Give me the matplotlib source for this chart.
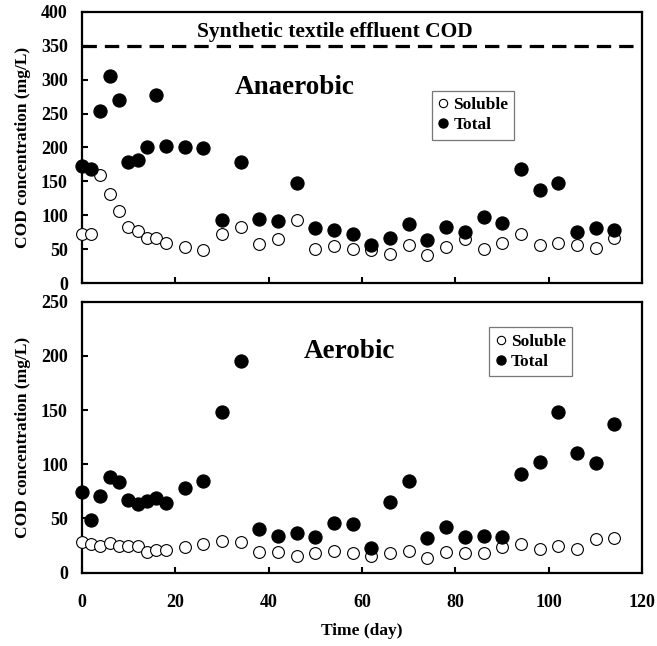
import matplotlib
matplotlib.use("Agg")
import matplotlib.pyplot as plt
from matplotlib.lines import Line2D

plt.rcParams['font.family'] = ['Liberation Serif', 'DejaVu Serif']
plt.rcParams['font.weight'] = 'bold'

days = [0, 2, 4, 6, 8, 10, 12, 14, 16, 18, 22, 26, 30, 34, 38, 42, 46, 50, 54, 58,
        62, 66, 70, 74, 78, 82, 86, 90, 94, 98, 102, 106, 110, 114]

anaer_total = [172, 168, 254, 305, 270, 178, 181, 201, 278, 202,
               200, 199, 93, 179, 95, 92, 148, 82, 79, 73,
               57, 67, 87, 63, 83, 75, 98, 89, 169, 138,
               148, 75, 81, 78]
anaer_sol = [72, 72, 160, 132, 106, 83, 77, 67, 67, 59,
             53, 49, 73, 83, 58, 65, 93, 51, 55, 50,
             49, 43, 56, 41, 54, 65, 51, 60, 72, 56,
             60, 57, 52, 67]

aer_total = [74, 49, 71, 88, 84, 67, 63, 66, 69, 64,
             78, 85, 148, 195, 40, 34, 37, 33, 46, 45,
             23, 65, 85, 32, 42, 33, 34, 33, 91, 102,
             148, 110, 101, 137]
aer_sol = [28, 26.5, 24.6, 27, 25, 24.6, 25, 19.4, 21, 21,
           24, 26.5, 29.5, 28.6, 19.4, 19.4, 15.7, 18.5, 20, 17.9,
           15.7, 17.9, 20, 13.8, 18.8, 17.9, 17.9, 23.4, 26.5, 21.9,
           24.6, 21.9, 31, 31.7]

effluent_cod = 350
xticks = [0, 20, 40, 60, 80, 100, 120]
yticks_top = [0, 50, 100, 150, 200, 250, 300, 350, 400]
yticks_bot = [0, 50, 100, 150, 200, 250]

fig = plt.figure(figsize=(6.57, 6.46), dpi=100)
ax1 = fig.add_axes([0.1244, 0.5615, 0.8533, 0.4204])
ax2 = fig.add_axes([0.1244, 0.1135, 0.8533, 0.4195])

tick_fs = 13
for ax in (ax1, ax2):
    for s in ax.spines.values():
        s.set_linewidth(1.6)
    ax.tick_params(direction='in', length=4, width=1.5, labelsize=tick_fs)
    ax.tick_params(axis='y', pad=10)
    ax.tick_params(axis='x', pad=15)
    ax.set_xlim(0, 120)
    ax.set_xticks(xticks)
    ax.set_ylabel('COD concentration (mg/L)', fontsize=12.5, fontweight='bold', labelpad=7)

def draw(ax, sol, tot):
    ax.plot(days, sol, ls='none', marker='o', ms=8.5, mfc='white', mec='black',
            mew=0.8, clip_on=False, zorder=3)
    ax.plot(days, tot, ls='none', marker='o', ms=9.5, mfc='black', mec='black',
            mew=0.8, clip_on=False, zorder=4)

draw(ax1, anaer_sol, anaer_total)
draw(ax2, aer_sol, aer_total)

ax1.set_ylim(0, 400)
ax1.set_yticks(yticks_top)
ax1.set_xticklabels([])
ax1.axhline(effluent_cod, color='black', lw=2.3, dashes=(4.5, 2.5))
ax1.text(54.2, 362, 'Synthetic textile effluent COD', ha='center', va='baseline',
         fontsize=15.5, fontweight='bold')
ax1.text(45.5, 288, 'Anaerobic', ha='center', va='center', fontsize=19.5, fontweight='bold')

ax2.set_ylim(0, 250)
ax2.set_yticks(yticks_bot)
ax2.text(57.4, 204, 'Aerobic', ha='center', va='center', fontsize=19.5, fontweight='bold')
ax2.set_xlabel('Time (day)', fontsize=12.5, fontweight='bold', labelpad=9)

handles = [Line2D([], [], ls='none', marker='o', ms=6, mfc='white', mec='black', mew=0.8),
           Line2D([], [], ls='none', marker='o', ms=6.5, mfc='black', mec='black')]
labels = ['Soluble', 'Total']

for ax, anchor in ((ax1, (0.624, 0.709)), (ax2, (0.727, 0.905))):
    leg = ax.legend(handles, labels, loc='upper left', bbox_to_anchor=anchor,
                    borderaxespad=0, fancybox=False, framealpha=1, edgecolor='#777777',
                    prop={'family': 'Liberation Serif', 'weight': 'bold', 'size': 12.5},
                    handlelength=0.6, handletextpad=0.3, borderpad=0.35, labelspacing=0.25)
    leg.get_frame().set_linewidth(0.9)

fig.savefig('out.png', dpi=100)
